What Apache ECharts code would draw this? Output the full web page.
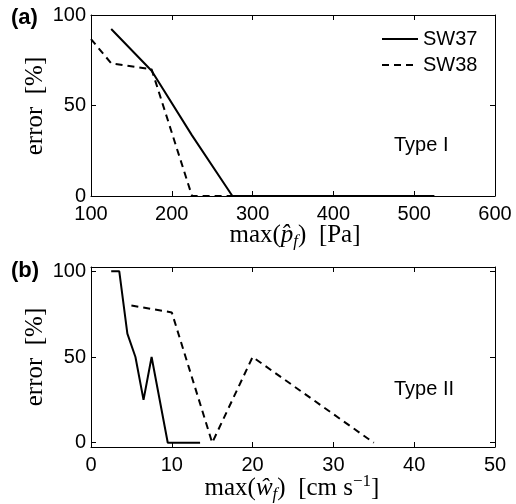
<!DOCTYPE html>
<html>
<head>
<meta charset="utf-8">
<script src="https://cdn.jsdelivr.net/npm/echarts@6/dist/echarts.min.js"></script>
<style>
  html, body { margin: 0; padding: 0; background: #fff; }
  #chart { width: 516px; height: 504px; }
</style>
</head>
<body>
<div id="chart"></div>
<script>
// Panel (a): error vs. peak pressure max(p_f) [Pa]
const pfSW37 = [125, 175, 225, 275, 525];
const errPfSW37 = [92.3, 69.2, 33.5, 0, 0];
const pfSW38 = [100, 125, 175, 225, 425];
const errPfSW38 = [86.7, 73.3, 70, 0, 0];

// Panel (b): error vs. peak velocity max(w_f) [cm s^-1]
const wfSW37 = [2.5, 3.5, 4.5, 5.5, 6.5, 7.5, 9.5, 13.5];
const errWfSW37 = [100, 100, 63.6, 50, 25, 50, 0, 0];
const wfSW38 = [5, 10, 15, 20, 35];
const errWfSW38 = [80, 76, 0, 50, 0];

const seriesNames = ['SW37', 'SW38'];
const yTicks = [0, 50, 100];

const pairs = (xs, ys) => xs.map((x, i) => [x, ys[i]]);

const SANS = '"Liberation Sans", Arial, sans-serif';
const SERIF = '"Liberation Serif", "Times New Roman", serif';

const axisCommon = {
  type: 'value',
  axisLine: { show: true, onZero: false, lineStyle: { color: '#000', width: 1 } },
  axisTick: { show: true, inside: true, length: 5, lineStyle: { color: '#000', width: 1 } },
  splitLine: { show: false },
  axisLabel: { color: '#000', fontSize: 20, fontFamily: SANS }
};

function xAx(grid, min, max, interval, pos, labels) {
  return Object.assign({}, axisCommon, {
    gridIndex: grid, min, max, interval, position: pos,
    axisLabel: Object.assign({}, axisCommon.axisLabel, { show: labels, margin: 8 })
  });
}
function yAx(grid, min, max, pos, labels) {
  return Object.assign({}, axisCommon, {
    gridIndex: grid, min, max, position: pos,
    axisTick: Object.assign({}, axisCommon.axisTick, { customValues: yTicks }),
    axisLabel: Object.assign({}, axisCommon.axisLabel, { show: labels, margin: 5, customValues: yTicks })
  });
}

const solid = { color: '#000', width: 2, type: 'solid' };
const dashed = { color: '#000', width: 2, type: [7, 5] };

function lineSeries(name, xi, yi, data, style) {
  return {
    name, type: 'line', xAxisIndex: xi, yAxisIndex: yi, data,
    symbol: 'none', clip: false, lineStyle: style, itemStyle: { color: '#000' },
    animation: false
  };
}

const serifRich = {
  r: { fontFamily: SERIF, fontSize: 25, lineHeight: 30, fill: '#000', color: '#000' },
  i: { fontFamily: SERIF, fontSize: 25, fontStyle: 'italic', lineHeight: 30, fill: '#000', color: '#000' },
  s: { fontFamily: SERIF, fontSize: 17, fontStyle: 'italic', verticalAlign: 'bottom', fill: '#000', color: '#000' },
  u: { fontFamily: SERIF, fontSize: 17, verticalAlign: 'top', fill: '#000', color: '#000' }
};

function label(text, x, y, opts) {
  return {
    type: 'text', x, y, rotation: (opts && opts.rotation) || 0,
    style: Object.assign({
      text, fill: '#000',
      align: 'left', verticalAlign: 'middle',
      textAlign: 'left', textVerticalAlign: 'middle'
    }, opts && opts.style)
  };
}

const chart = echarts.init(document.getElementById('chart'), null, { renderer: 'canvas' });
chart.setOption({
  animation: false,
  backgroundColor: '#fff',
  grid: [
    { left: 91, top: 15, width: 404, height: 181 },
    { left: 91, top: 267, width: 404, height: 180 }
  ],
  xAxis: [
    xAx(0, 100, 600, 100, 'bottom', true),
    xAx(0, 100, 600, 100, 'top', false),
    xAx(1, 0, 50, 10, 'bottom', true),
    xAx(1, 0, 50, 10, 'top', false)
  ],
  yAxis: [
    yAx(0, 0, 100, 'left', true),
    yAx(0, 0, 100, 'right', false),
    yAx(1, -2.5, 102.5, 'left', true),
    yAx(1, -2.5, 102.5, 'right', false)
  ],
  legend: {
    data: seriesNames,
    orient: 'vertical',
    left: 381, top: 29, padding: 0,
    itemWidth: 36, itemHeight: 20, itemGap: 6,
    itemStyle: { opacity: 0 },
    textStyle: { color: '#000', fontSize: 20, fontFamily: SANS },
    selectedMode: false
  },
  series: [
    lineSeries(seriesNames[0], 0, 0, pairs(pfSW37, errPfSW37), solid),
    lineSeries(seriesNames[1], 0, 0, pairs(pfSW38, errPfSW38), dashed),
    lineSeries(seriesNames[0], 2, 2, pairs(wfSW37, errWfSW37), solid),
    lineSeries(seriesNames[1], 2, 2, pairs(wfSW38, errWfSW38), dashed)
  ],
  graphic: [
    label('(a)', 11, 18, { style: { font: 'bold 22px ' + SANS } }),
    label('(b)', 11, 271, { style: { font: 'bold 22px ' + SANS } }),
    label('Type I', 394, 145, { style: { font: '20px ' + SANS } }),
    label('Type II', 394, 389, { style: { font: '20px ' + SANS } }),
    label('error  [%]', 35, 106, { rotation: Math.PI / 2, style: { font: '25px ' + SERIF, align: 'center', textAlign: 'center' } }),
    label('error  [%]', 35, 357, { rotation: Math.PI / 2, style: { font: '25px ' + SERIF, align: 'center', textAlign: 'center' } }),
    label('{r|max(}{i|p\u0302}{s|f}{r|)  [Pa]}', 295, 235, { style: { align: 'center', textAlign: 'center', rich: serifRich } }),
    label('{r|max(}{i|w\u0302}{s|f}{r|)  [cm s}{u|\u22121}{r|]}', 292, 488, { style: { align: 'center', textAlign: 'center', rich: serifRich } })
  ]
});
</script>
</body>
</html>
